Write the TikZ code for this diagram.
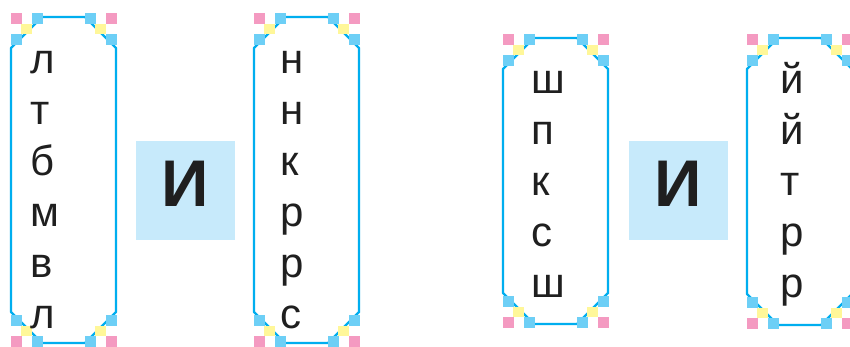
\documentclass[tikz,border=0pt]{standalone}
\usepackage{fontspec}
\setmainfont{Liberation Sans}
\definecolor{frameC}{HTML}{00AEEF}
\definecolor{sqC}{HTML}{6DCFF6}
\definecolor{sqP}{HTML}{F49AC1}
\definecolor{sqY}{HTML}{FFF799}
\definecolor{iBg}{HTML}{C7EAFB}
\newcommand{\cardbox}[4]{%
  % #1=L #2=T #3=R #4=B
  \draw[frame] ({#1+31},#2) -- ({#3-31},#2) -- (#3,{#2+31}) -- (#3,{#4-31}) -- ({#3-31},#4) -- ({#1+31},#4) -- (#1,{#4-31}) -- (#1,{#2+31}) -- cycle;
  % top-left
  \fill[sqP] ({#1-0.5},{#2-4}) rectangle ({#1+10.5},{#2+6.5});
  \fill[sqC] ({#1+20.5},{#2-4}) rectangle ({#1+31.5},{#2+6.5});
  \fill[sqY] ({#1+10},{#2+6.5}) rectangle ({#1+21},{#2+17});
  \fill[sqC] ({#1-0.5},{#2+17}) rectangle ({#1+10.5},{#2+27.5});
  % top-right
  \fill[sqP] ({#3-10.5},{#2-4}) rectangle ({#3+0.5},{#2+6.5});
  \fill[sqC] ({#3-31.5},{#2-4}) rectangle ({#3-20.5},{#2+6.5});
  \fill[sqY] ({#3-21},{#2+6.5}) rectangle ({#3-10},{#2+17});
  \fill[sqC] ({#3-10.5},{#2+17}) rectangle ({#3+0.5},{#2+27.5});
  % bottom-left
  \fill[sqP] ({#1-0.5},{#4-7}) rectangle ({#1+10.5},{#4+3.5});
  \fill[sqC] ({#1+20.5},{#4-7}) rectangle ({#1+31.5},{#4+3.5});
  \fill[sqY] ({#1+10},{#4-17.5}) rectangle ({#1+21},{#4-7});
  \fill[sqC] ({#1-0.5},{#4-28}) rectangle ({#1+10.5},{#4-17.5});
  % bottom-right
  \fill[sqP] ({#3-10.5},{#4-7}) rectangle ({#3+0.5},{#4+3.5});
  \fill[sqC] ({#3-31.5},{#4-7}) rectangle ({#3-20.5},{#4+3.5});
  \fill[sqY] ({#3-21},{#4-17.5}) rectangle ({#3-10},{#4-7});
  \fill[sqC] ({#3-10.5},{#4-28}) rectangle ({#3+0.5},{#4-17.5});
}
\tikzset{
  frame/.style={draw=frameC, line width=2.4pt, line join=round},
  letter/.style={anchor=base west, inner sep=0pt, font=\fontsize{42}{42}\selectfont, text=black!88},
  ibox/.style={fill=iBg, draw=none},
  iletter/.style={anchor=base, inner sep=0pt, font=\fontsize{66}{66}\selectfont\bfseries, text=black!88},
}
\begin{document}
\begin{tikzpicture}[x=1pt,y=-1pt]
\useasboundingbox (0,0) rectangle (850,346);
\fill[white] (0,0) rectangle (850,346);

\cardbox{11}{17}{116}{343}
\cardbox{254}{17}{359}{343}
\cardbox{503}{38}{608}{324}
\cardbox{747}{38}{852}{325}

% box 1
\node[letter] (a1) at (30,73) {л};
\node[letter] (a2) at (30,124) {т};
\node[letter] (a3) at (30,175) {б};
\node[letter] (a4) at (30,226) {м};
\node[letter] (a5) at (30,277) {в};
\node[letter] (a6) at (30,328) {л};
% box 2
\node[letter] (b1) at (280,73) {н};
\node[letter] (b2) at (280,124) {н};
\node[letter] (b3) at (280,175) {к};
\node[letter] (b4) at (280,226) {р};
\node[letter] (b5) at (280,277) {р};
\node[letter] (b6) at (280,328) {с};
% box 3
\node[letter] (c1) at (531,93) {ш};
\node[letter] (c2) at (531,144) {п};
\node[letter] (c3) at (531,195) {к};
\node[letter] (c4) at (531,246) {с};
\node[letter] (c5) at (531,297) {ш};
% box 4
\node[letter] (d1) at (780,93) {й};
\node[letter] (d2) at (780,144) {й};
\node[letter] (d3) at (780,195) {т};
\node[letter] (d4) at (780,246) {р};
\node[letter] (d5) at (780,297) {р};

% I boxes
\fill[ibox] (136,141) rectangle (235,240);
\node[iletter] (i1) at (185.5,206) {И};
\fill[ibox] (629,141) rectangle (728,240);
\node[iletter] (i2) at (678.5,206) {И};
\end{tikzpicture}
\end{document}
